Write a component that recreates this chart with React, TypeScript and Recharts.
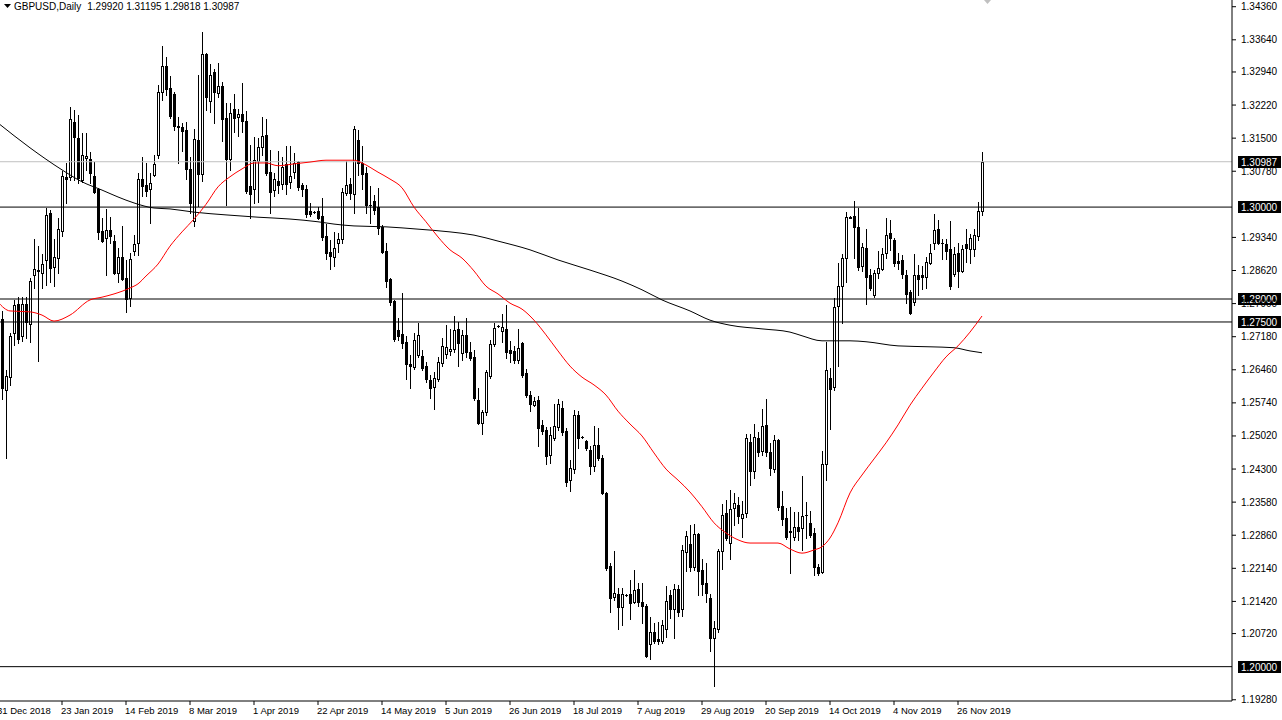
import React from 'react';
import { ComposedChart, Bar, Line, XAxis, YAxis, ReferenceLine } from 'recharts';

// ---------- data ----------
const FIRST_INDEX = 1; // bar index of the first candle (bar 0 = 31 Dec 2018)

const opens = [
  1.2757, 1.2602, 1.2630, 1.2726, 1.2789, 1.2720, 1.2789, 1.2746, 1.2852, 1.2863,
  1.2856, 1.2885, 1.2987, 1.2870, 1.2889, 1.2948, 1.3065, 1.3065, 1.3185, 1.3151,
  1.3059, 1.3107, 1.3105, 1.3068, 1.3039, 1.2948, 1.2933, 1.2950, 1.2926, 1.2856,
  1.2891, 1.2846, 1.2802, 1.2904, 1.2922, 1.3061, 1.3048, 1.3039, 1.3070, 1.3113,
  1.3251, 1.3307, 1.3259, 1.3246, 1.3177, 1.3175, 1.3168, 1.3083, 1.2970, 1.3146,
  1.3072, 1.3333, 1.3231, 1.3294, 1.3248, 1.3264, 1.3194, 1.3105, 1.3213, 1.3196,
  1.3203, 1.3187, 1.3046, 1.3039, 1.3100, 1.3131, 1.3157, 1.3076, 1.3037, 1.3057,
  1.3050, 1.3094, 1.3055, 1.3076, 1.3098, 1.3048, 1.3039, 1.2991, 1.2990, 1.2991,
  1.2981, 1.2937, 1.2902, 1.2891, 1.2922, 1.2931, 1.3031, 1.3050, 1.3028, 1.3146,
  1.3096, 1.3074, 1.3005, 1.3013, 1.3000, 1.2957, 1.2904, 1.2844, 1.2796, 1.2733,
  1.2724, 1.2707, 1.2659, 1.2652, 1.2678, 1.2676, 1.2654, 1.2624, 1.2609, 1.2626,
  1.2661, 1.2680, 1.2687, 1.2691, 1.2735, 1.2683, 1.2722, 1.2685, 1.2674, 1.2580,
  1.2530, 1.2554, 1.2632, 1.2702, 1.2741, 1.2730, 1.2735, 1.2689, 1.2687, 1.2667,
  1.2704, 1.2639, 1.2591, 1.2569, 1.2580, 1.2526, 1.2515, 1.2461, 1.2498, 1.2522,
  1.2563, 1.2513, 1.2406, 1.2430, 1.2548, 1.2500, 1.2491, 1.2472, 1.2437, 1.2482,
  1.2454, 1.2378, 1.2219, 1.2152, 1.2158, 1.2130, 1.2156, 1.2158, 1.2141, 1.2169,
  1.2141, 1.2132, 1.2049, 1.2075, 1.2060, 1.2056, 1.2082, 1.2156, 1.2125, 1.2169,
  1.2125, 1.2250, 1.2267, 1.2217, 1.2289, 1.2210, 1.2182, 1.2149, 1.2062, 1.2082,
  1.2252, 1.2334, 1.2269, 1.2345, 1.2352, 1.2324, 1.2334, 1.2489, 1.2426, 1.2498,
  1.2469, 1.2526, 1.2467, 1.2430, 1.2493, 1.2350, 1.2324, 1.2295, 1.2282, 1.2304,
  1.2302, 1.2330, 1.2313, 1.2291, 1.2217, 1.2206, 1.2441, 1.2628, 1.2609, 1.2785,
  1.2828, 1.2889, 1.2978, 1.2981, 1.2957, 1.2872, 1.2911, 1.2852, 1.2809, 1.2856,
  1.2865, 1.2900, 1.2944, 1.2928, 1.2883, 1.2885, 1.2852, 1.2815, 1.2794, 1.2852,
  1.2852, 1.2848, 1.2878, 1.2922, 1.2952, 1.2922, 1.2920, 1.2909, 1.2854, 1.2900,
  1.2861, 1.2920, 1.2909, 1.2909, 1.2937, 1.29920,
];

const highs = [
  1.2774, 1.2645, 1.2726, 1.2798, 1.2804, 1.2804, 1.2804, 1.2846, 1.2931, 1.2915,
  1.2898, 1.2998, 1.2994, 1.2931, 1.2976, 1.3078, 1.3096, 1.3218, 1.3211, 1.3200,
  1.3161, 1.3161, 1.3120, 1.3098, 1.3042, 1.2976, 1.2996, 1.2978, 1.2939, 1.2911,
  1.2959, 1.2885, 1.2900, 1.2939, 1.3074, 1.3109, 1.3096, 1.3074, 1.3113, 1.3266,
  1.3351, 1.3326, 1.3285, 1.3251, 1.3196, 1.3183, 1.3185, 1.3109, 1.3170, 1.3287,
  1.3381, 1.3335, 1.3311, 1.3300, 1.3313, 1.3272, 1.3227, 1.3227, 1.3246, 1.3213,
  1.3270, 1.3209, 1.3135, 1.3153, 1.3151, 1.3196, 1.3192, 1.3124, 1.3074, 1.3122,
  1.3109, 1.3133, 1.3133, 1.3118, 1.3100, 1.3052, 1.3048, 1.3009, 1.2991, 1.3000,
  1.3020, 1.2963, 1.2928, 1.2946, 1.2944, 1.3042, 1.3100, 1.3063, 1.3177, 1.3168,
  1.3133, 1.3087, 1.3046, 1.3026, 1.3042, 1.2961, 1.2922, 1.2846, 1.2798, 1.2759,
  1.2813, 1.2720, 1.2678, 1.2726, 1.2748, 1.2689, 1.2663, 1.2635, 1.2641, 1.2674,
  1.2715, 1.2744, 1.2735, 1.2763, 1.2750, 1.2733, 1.2759, 1.2707, 1.2689, 1.2606,
  1.2559, 1.2645, 1.2711, 1.2748, 1.2744, 1.2768, 1.2787, 1.2709, 1.2698, 1.2735,
  1.2707, 1.2648, 1.2600, 1.2587, 1.2589, 1.2537, 1.2522, 1.2522, 1.2572, 1.2582,
  1.2578, 1.2519, 1.2450, 1.2559, 1.2556, 1.2502, 1.2493, 1.2480, 1.2524, 1.2519,
  1.2461, 1.2380, 1.2226, 1.2252, 1.2171, 1.2171, 1.2158, 1.2189, 1.2210, 1.2182,
  1.2182, 1.2136, 1.2108, 1.2095, 1.2097, 1.2102, 1.2176, 1.2167, 1.2180, 1.2178,
  1.2265, 1.2295, 1.2308, 1.2311, 1.2291, 1.2234, 1.2226, 1.2158, 1.2099, 1.2256,
  1.2354, 1.2363, 1.2385, 1.2378, 1.2369, 1.2361, 1.2506, 1.2506, 1.2528, 1.2511,
  1.2561, 1.2582, 1.2487, 1.2504, 1.2496, 1.2382, 1.2345, 1.2348, 1.2337, 1.2337,
  1.2415, 1.2359, 1.2339, 1.2302, 1.2224, 1.2469, 1.2707, 1.2650, 1.2802, 1.2878,
  1.2898, 1.2989, 1.2981, 1.3013, 1.2998, 1.2922, 1.2952, 1.2865, 1.2863, 1.2904,
  1.2911, 1.2976, 1.2972, 1.2933, 1.2900, 1.2896, 1.2863, 1.2820, 1.2898, 1.2874,
  1.2872, 1.2891, 1.2920, 1.2985, 1.2972, 1.2931, 1.2931, 1.2970, 1.2913, 1.2922,
  1.2918, 1.2952, 1.2942, 1.2952, 1.3011, 1.31195,
];

const lows = [
  1.2582, 1.2454, 1.2613, 1.2700, 1.2704, 1.2709, 1.2715, 1.2706, 1.2824, 1.2665,
  1.2824, 1.2830, 1.2837, 1.2828, 1.2856, 1.2937, 1.3009, 1.3059, 1.3059, 1.3052,
  1.3055, 1.3081, 1.3052, 1.3031, 1.2931, 1.2924, 1.2852, 1.2922, 1.2854, 1.2837,
  1.2841, 1.2772, 1.2785, 1.2896, 1.2896, 1.3024, 1.3024, 1.2965, 1.3068, 1.3107,
  1.3233, 1.3244, 1.3194, 1.3168, 1.3096, 1.3122, 1.3061, 1.2987, 1.2959, 1.3002,
  1.3057, 1.3211, 1.3207, 1.3183, 1.3240, 1.3144, 1.3005, 1.3081, 1.3163, 1.3155,
  1.3163, 1.3031, 1.2976, 1.3009, 1.3011, 1.3113, 1.3070, 1.2987, 1.3024, 1.3031,
  1.3039, 1.3028, 1.3042, 1.3063, 1.3037, 1.3024, 1.2978, 1.2981, 1.2987, 1.2974,
  1.2928, 1.2887, 1.2865, 1.2872, 1.2902, 1.2922, 1.3026, 1.3018, 1.2987, 1.3070,
  1.3039, 1.2987, 1.2965, 1.2985, 1.2942, 1.2900, 1.2826, 1.2787, 1.2709, 1.2711,
  1.2694, 1.2626, 1.2606, 1.2648, 1.2674, 1.2646, 1.2620, 1.2585, 1.2561, 1.2622,
  1.2654, 1.2672, 1.2678, 1.2685, 1.2654, 1.2667, 1.2674, 1.2667, 1.2580, 1.2528,
  1.2506, 1.2548, 1.2628, 1.2698, 1.2739, 1.2707, 1.2672, 1.2663, 1.2661, 1.2661,
  1.2630, 1.2587, 1.2556, 1.2567, 1.2480, 1.2506, 1.2441, 1.2443, 1.2493, 1.2515,
  1.2504, 1.2393, 1.2382, 1.2421, 1.2476, 1.2498, 1.2472, 1.2419, 1.2426, 1.2450,
  1.2376, 1.2210, 1.2119, 1.2145, 1.2082, 1.2091, 1.2154, 1.2104, 1.2139, 1.2132,
  1.2095, 1.2021, 1.2017, 1.2051, 1.2049, 1.2051, 1.2065, 1.2106, 1.2062, 1.2110,
  1.2110, 1.2208, 1.2208, 1.2210, 1.2156, 1.2156, 1.2141, 1.2034, 1.1958, 1.2075,
  1.2213, 1.2276, 1.2234, 1.2308, 1.2313, 1.2282, 1.2326, 1.2395, 1.2411, 1.2459,
  1.2461, 1.2459, 1.2417, 1.2424, 1.2341, 1.2308, 1.2278, 1.2204, 1.2276, 1.2276,
  1.2254, 1.2280, 1.2282, 1.2200, 1.2200, 1.2204, 1.2406, 1.2517, 1.2602, 1.2654,
  1.2748, 1.2837, 1.2976, 1.2889, 1.2863, 1.2861, 1.2789, 1.2820, 1.2804, 1.2846,
  1.2863, 1.2889, 1.2907, 1.2872, 1.2865, 1.2846, 1.2791, 1.2767, 1.2787, 1.2809,
  1.2822, 1.2824, 1.2876, 1.2909, 1.2920, 1.2887, 1.2887, 1.2822, 1.2850, 1.2826,
  1.2859, 1.2880, 1.2878, 1.2894, 1.2928, 1.29818,
];

const closes = [
  1.2606, 1.2632, 1.2720, 1.2787, 1.2713, 1.2789, 1.2750, 1.2839, 1.2865, 1.2862,
  1.2876, 1.2983, 1.2867, 1.2891, 1.2952, 1.3068, 1.3061, 1.3192, 1.3153, 1.3063,
  1.3113, 1.3111, 1.3074, 1.3033, 1.2946, 1.2926, 1.2950, 1.2937, 1.2856, 1.2891,
  1.2844, 1.2800, 1.2887, 1.2920, 1.3061, 1.3046, 1.3035, 1.3052, 1.3094, 1.3251,
  1.3307, 1.3257, 1.3198, 1.3177, 1.3175, 1.3166, 1.3083, 1.3009, 1.3148, 1.3072,
  1.3333, 1.3240, 1.3287, 1.3251, 1.3264, 1.3192, 1.3105, 1.3205, 1.3194, 1.3203,
  1.3187, 1.3035, 1.3028, 1.3102, 1.3131, 1.3155, 1.3074, 1.3033, 1.3061, 1.3048,
  1.3087, 1.3050, 1.3068, 1.3096, 1.3044, 1.3039, 1.2985, 1.2985, 1.2989, 1.2976,
  1.2935, 1.2900, 1.2894, 1.2911, 1.2931, 1.3033, 1.3048, 1.3031, 1.3170, 1.3096,
  1.3072, 1.3005, 1.3004, 1.2994, 1.2955, 1.2902, 1.2839, 1.2794, 1.2713, 1.2720,
  1.2704, 1.2659, 1.2654, 1.2711, 1.2722, 1.2650, 1.2626, 1.2606, 1.2628, 1.2663,
  1.2698, 1.2696, 1.2691, 1.2733, 1.2704, 1.2722, 1.2685, 1.2672, 1.2585, 1.2530,
  1.2554, 1.2641, 1.2702, 1.2737, 1.2742, 1.2739, 1.2685, 1.2683, 1.2667, 1.2694,
  1.2635, 1.2591, 1.2572, 1.2578, 1.2519, 1.2513, 1.2459, 1.2504, 1.2524, 1.2572,
  1.2511, 1.2402, 1.2432, 1.2548, 1.2498, 1.2499, 1.2476, 1.2437, 1.2482, 1.2454,
  1.2378, 1.2215, 1.2149, 1.2160, 1.2130, 1.2158, 1.2155, 1.2139, 1.2167, 1.2141,
  1.2132, 1.2023, 1.2075, 1.2056, 1.2056, 1.2091, 1.2143, 1.2125, 1.2169, 1.2119,
  1.2254, 1.2284, 1.2217, 1.2289, 1.2208, 1.2180, 1.2160, 1.2062, 1.2084, 1.2252,
  1.2330, 1.2280, 1.2343, 1.2356, 1.2328, 1.2332, 1.2498, 1.2426, 1.2500, 1.2467,
  1.2524, 1.2467, 1.2432, 1.2493, 1.2348, 1.2321, 1.2282, 1.2294, 1.2304, 1.2295,
  1.2328, 1.2329, 1.2287, 1.2217, 1.2204, 1.2441, 1.2645, 1.2604, 1.2783, 1.2828,
  1.2889, 1.2978, 1.2977, 1.2957, 1.2870, 1.2913, 1.2848, 1.2824, 1.2856, 1.2867,
  1.2898, 1.2939, 1.2933, 1.2878, 1.2878, 1.2854, 1.2811, 1.2770, 1.2852, 1.2844,
  1.2848, 1.2881, 1.2900, 1.2950, 1.2922, 1.2921, 1.2904, 1.2828, 1.2898, 1.2861,
  1.2909, 1.2911, 1.2933, 1.2939, 1.2992, 1.30987,
];

// red moving average (at these bar indices)
const fastMaIndex = [
  0, 3, 8, 11, 14, 18, 23, 26, 29, 33, 35, 37, 40, 43, 46, 49, 52, 55, 58, 61,
  64, 67, 70, 74, 78, 82, 86, 89, 91, 95, 98, 101, 104, 107, 110, 113, 116, 119, 122, 125,
  128, 131, 134, 137, 140, 143, 146, 149, 152, 155, 158, 161, 164, 167, 170, 173, 176, 179, 182, 185,
  188, 192, 195, 198, 201, 204, 206, 208, 210, 213, 216, 219, 222, 225, 228, 231, 234, 237, 240, 243,
  246,
];
const fastMaValue = [
  1.2793, 1.2774, 1.2772, 1.2765, 1.2752, 1.2765, 1.2798, 1.2804, 1.2811, 1.2824,
  1.2833, 1.2850, 1.2876, 1.2915, 1.2946, 1.2974, 1.3006, 1.3044, 1.3066, 1.3083,
  1.3096, 1.3096, 1.3090, 1.3094, 1.3098, 1.3102, 1.3102, 1.3102, 1.3096, 1.3076,
  1.3061, 1.3042, 1.3000, 1.2968, 1.2935, 1.2907, 1.2889, 1.2861, 1.2828, 1.2811,
  1.2791, 1.2778, 1.2754, 1.2722, 1.2687, 1.2654, 1.2630, 1.2613, 1.2591, 1.2556,
  1.2528, 1.2502, 1.2465, 1.2430, 1.2406, 1.2380, 1.2348, 1.2313, 1.2291, 1.2276,
  1.2269, 1.2269, 1.2269, 1.2256, 1.2247, 1.2254, 1.2261, 1.2280, 1.2313, 1.2378,
  1.2417, 1.2452, 1.2487, 1.2526, 1.2569, 1.2606, 1.2641, 1.2674, 1.2698, 1.2728,
  1.2763,
];

// black moving average (at these bar indices)
const slowMaIndex = [
  0, 8, 16, 21, 26, 30, 34, 39, 43, 49, 57, 65, 73, 80, 84, 89, 97, 105, 113, 119,
  125, 133, 140, 148, 156, 161, 166, 173, 178, 183, 191, 198, 201, 206, 213, 217, 225, 233, 239, 243,
  246,
];
const slowMaValue = [
  1.3183, 1.3129, 1.3081, 1.3055, 1.3037, 1.3022, 1.3009, 1.2998, 1.2996, 1.2989,
  1.2983, 1.2978, 1.2974, 1.2968, 1.2963, 1.2959, 1.2957, 1.2952, 1.2946, 1.2939,
  1.2926, 1.2907, 1.2885, 1.2863, 1.2839, 1.2820, 1.2798, 1.2774, 1.2754, 1.2743,
  1.2735, 1.2728, 1.2720, 1.2709, 1.2709, 1.2707, 1.2698, 1.2696, 1.2694, 1.2687,
  1.2683,
];

const dateTickIndex = [0, 16, 32, 48, 64, 80, 96, 112, 128, 144, 160, 176, 192, 208, 224, 240];
const dateTickLabels = [
  '31 Dec 2018', '23 Jan 2019', '14 Feb 2019', '8 Mar 2019', '1 Apr 2019', '22 Apr 2019',
  '14 May 2019', '5 Jun 2019', '26 Jun 2019', '18 Jul 2019', '7 Aug 2019', '29 Aug 2019',
  '20 Sep 2019', '14 Oct 2019', '4 Nov 2019', '26 Nov 2019',
];

const priceTicks = [
  1.3436, 1.3364, 1.3294, 1.3222, 1.315, 1.3078, 1.2934, 1.2862, 1.279, 1.2718,
  1.2646, 1.2574, 1.2502, 1.243, 1.2358, 1.2286, 1.2214, 1.2142, 1.2072, 1.1928,
];

const levelLines = [1.3, 1.28, 1.275, 1.2];
const lastPrice = 1.30987;
const symbolTitle = 'GBPUSD,Daily';

// ---------- build table ----------
type Row = {
  i: number;
  o?: number;
  h?: number;
  l?: number;
  c?: number;
  range?: number[];
  fast: number | null;
  slow: number | null;
};

const rows: Row[] = [{ i: 0, fast: null, slow: null }];
opens.forEach((o, k) => {
  rows.push({
    i: FIRST_INDEX + k,
    o,
    h: highs[k],
    l: lows[k],
    c: closes[k],
    range: [lows[k], highs[k]],
    fast: null,
    slow: null,
  });
});
fastMaIndex.forEach((idx, k) => {
  const r = rows[idx];
  if (r) r.fast = fastMaValue[k];
});
slowMaIndex.forEach((idx, k) => {
  const r = rows[idx];
  if (r) r.slow = slowMaValue[k];
});

const FONT = '"Liberation Sans", Arial, sans-serif';

// ---------- shapes ----------
const Candle = (props: any) => {
  const { x, y, width, height, payload } = props;
  if (x == null || y == null || payload == null || payload.o == null) return null;
  const cx = Math.round(x + width / 2);
  const { o, h, l, c } = payload;
  const span = h - l;
  const py = (v: number) => (span > 0 ? y + ((h - v) / span) * height : y);
  const yh = Math.round(py(h));
  const yl = Math.round(py(l));
  const top = Math.round(py(Math.max(o, c)));
  const bot = Math.round(py(Math.min(o, c)));
  const bull = c >= o;
  return (
    <g shapeRendering="crispEdges">
      <line x1={cx + 0.5} x2={cx + 0.5} y1={yh} y2={yl + 1} stroke="#000" strokeWidth={1} />
      {bot - top < 1 ? (
        <line x1={cx - 1} x2={cx + 2} y1={top + 0.5} y2={top + 0.5} stroke="#000" strokeWidth={1} />
      ) : (
        <rect
          x={cx - 0.5}
          y={top + 0.5}
          width={2}
          height={bot - top}
          fill={bull ? '#fff' : '#000'}
          stroke="#000"
          strokeWidth={1}
        />
      )}
    </g>
  );
};

const DateTick = (props: any) => {
  const { x, y, payload } = props;
  const k = dateTickIndex.indexOf(payload.value);
  const label = k >= 0 ? dateTickLabels[k] : '';
  return (
    <text x={x - 1} y={y + 7} fontSize={9.5} fontFamily={FONT} fill="#000" textAnchor="start">
      {label}
    </text>
  );
};

const PriceTick = (props: any) => {
  const { x, y, payload } = props;
  return (
    <text x={x} y={y} dy="0.35em" fontSize={10} fontFamily={FONT} fill="#000" textAnchor="start">
      {Number(payload.value).toFixed(5)}
    </text>
  );
};

const PriceBox = (props: any) => {
  const { viewBox, text } = props;
  if (!viewBox) return null;
  const x = viewBox.x + viewBox.width;
  const y = Math.round(viewBox.y);
  return (
    <g>
      <rect x={x + 6} y={y - 6} width={43} height={12} fill="#000" />
      <text x={x + 9} y={y} dy="0.35em" fontSize={10} fontFamily={FONT} fill="#fff" textAnchor="start">
        {text}
      </text>
    </g>
  );
};

export default function App() {
  const k = opens.length - 1;
  const header = `${opens[k].toFixed(5)} ${highs[k].toFixed(5)} ${lows[k].toFixed(5)} ${closes[k].toFixed(5)}`;
  return (
    <div
      style={{
        position: 'absolute',
        left: 0,
        top: 0,
        width: 1282,
        height: 720,
        background: '#fff',
        fontFamily: FONT,
        overflow: 'hidden',
      }}
    >
      <ComposedChart width={1282} height={720} data={rows} margin={{ top: 0, right: 0, bottom: 0, left: 0 }}>
        <XAxis
          dataKey="i"
          type="number"
          domain={[0.5, 308.5]}
          allowDataOverflow
          ticks={dateTickIndex}
          interval={0}
          height={19}
          tickSize={4}
          axisLine={{ stroke: '#000' }}
          tickLine={{ stroke: '#000' }}
          tick={<DateTick />}
        />
        <YAxis
          orientation="right"
          type="number"
          domain={[1.19253, 1.34506]}
          allowDataOverflow
          ticks={priceTicks}
          interval={0}
          width={50}
          tickSize={4}
          tickMargin={5}
          axisLine={{ stroke: '#000' }}
          tickLine={{ stroke: '#000' }}
          tick={<PriceTick />}
        />
        <ReferenceLine
          y={lastPrice}
          stroke="#c0c0c0"
          strokeWidth={1}
          label={<PriceBox text={lastPrice.toFixed(5)} />}
        />
        {levelLines.map((v) => (
          <ReferenceLine
            key={v}
            y={v}
            stroke="#000"
            strokeWidth={1}
            label={<PriceBox text={v.toFixed(5)} />}
          />
        ))}
        <Bar dataKey="range" barSize={3} shape={<Candle />} isAnimationActive={false} minPointSize={0} />
        <Line
          dataKey="slow"
          stroke="#000"
          strokeWidth={1}
          dot={false}
          activeDot={false}
          connectNulls
          type="monotone"
          isAnimationActive={false}
        />
        <Line
          dataKey="fast"
          stroke="#ff0000"
          strokeWidth={1}
          dot={false}
          activeDot={false}
          connectNulls
          type="monotone"
          isAnimationActive={false}
        />
      </ComposedChart>
      <svg
        width={1282}
        height={720}
        style={{ position: 'absolute', left: 0, top: 0, pointerEvents: 'none' }}
      >
        <polygon points="4,4 11,4 7.5,8" fill="#000" />
        <text x={14} y={10} fontSize={10} fontFamily={FONT} fill="#000">
          {symbolTitle}
          <tspan dx={6}>{header}</tspan>
        </text>
        <polygon points="984,0 991,0 987.5,4" fill="#c0c0c0" />
      </svg>
    </div>
  );
}
